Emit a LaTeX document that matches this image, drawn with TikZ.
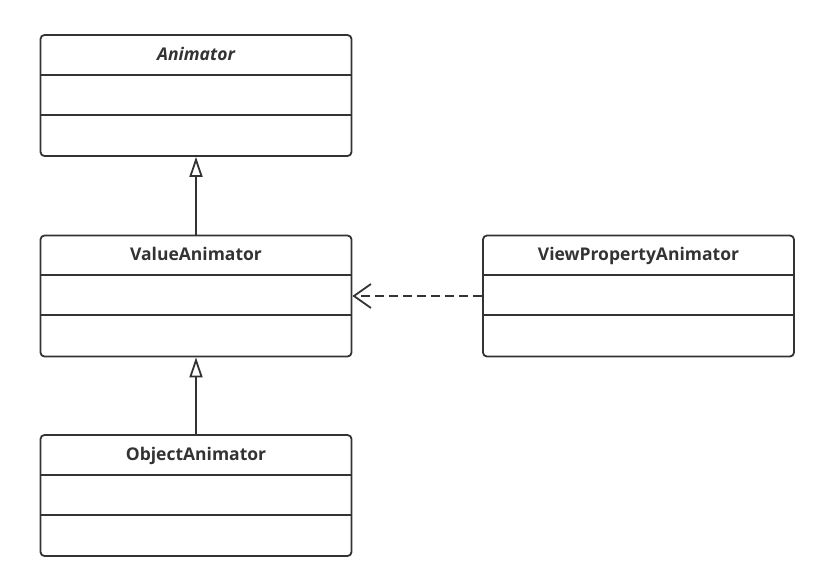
\documentclass[tikz,border=0pt]{standalone}
\usepackage{fontspec}
\setmainfont{Open Sans}
\usetikzlibrary{arrows.meta,calc}
\definecolor{ink}{HTML}{333333}
\tikzset{
  umlbox/.style={draw=ink, line width=1.8pt, rounded corners=4pt, minimum width=311pt, minimum height=121pt, inner sep=0pt, fill=white},
  divider/.style={draw=ink, line width=1.8pt},
  titletext/.style={font=\fontsize{17.5}{20}\selectfont\bfseries, text=ink, inner sep=0pt, anchor=base},
  inherit/.style={draw=ink, line width=1.8pt, -{Triangle[open, length=20pt, width=13pt]}},
  depend/.style={draw=ink, line width=1.8pt, dash pattern=on 9pt off 5pt, -{Straight Barb[length=17pt, width=24pt]}}
}
\begin{document}
\begin{tikzpicture}[x=1pt,y=-1pt]
\useasboundingbox (0,0) rectangle (829,586);
% boxes
\node[umlbox] (anim) at (196,95.5) {};
\node[umlbox] (value) at (196,296) {};
\node[umlbox] (view) at (638.5,296) {};
\node[umlbox] (obj) at (196,495.5) {};
% dividers
\foreach \b in {anim,value,view,obj}{
  \draw[divider] ($(\b.north west)+(0,40.5)$) -- ($(\b.north east)+(0,40.5)$);
  \draw[divider] ($(\b.north west)+(0,80.5)$) -- ($(\b.north east)+(0,80.5)$);
}
% titles
\node[titletext] (animT) at ($(anim.north)+(0,26)$) {\itshape Animator};
\node[titletext] (valueT) at ($(value.north)+(0,26)$) {ValueAnimator};
\node[titletext] (viewT) at ($(view.north)+(0,26)$) {ViewPropertyAnimator};
\node[titletext] (objT) at ($(obj.north)+(0,26)$) {ObjectAnimator};
% connectors
\draw[inherit] (value.north) -- (anim.south);
\draw[inherit] (obj.north) -- (value.south);
\draw[depend] (view.west |- value.east) -- (value.east);
\end{tikzpicture}
\end{document}
